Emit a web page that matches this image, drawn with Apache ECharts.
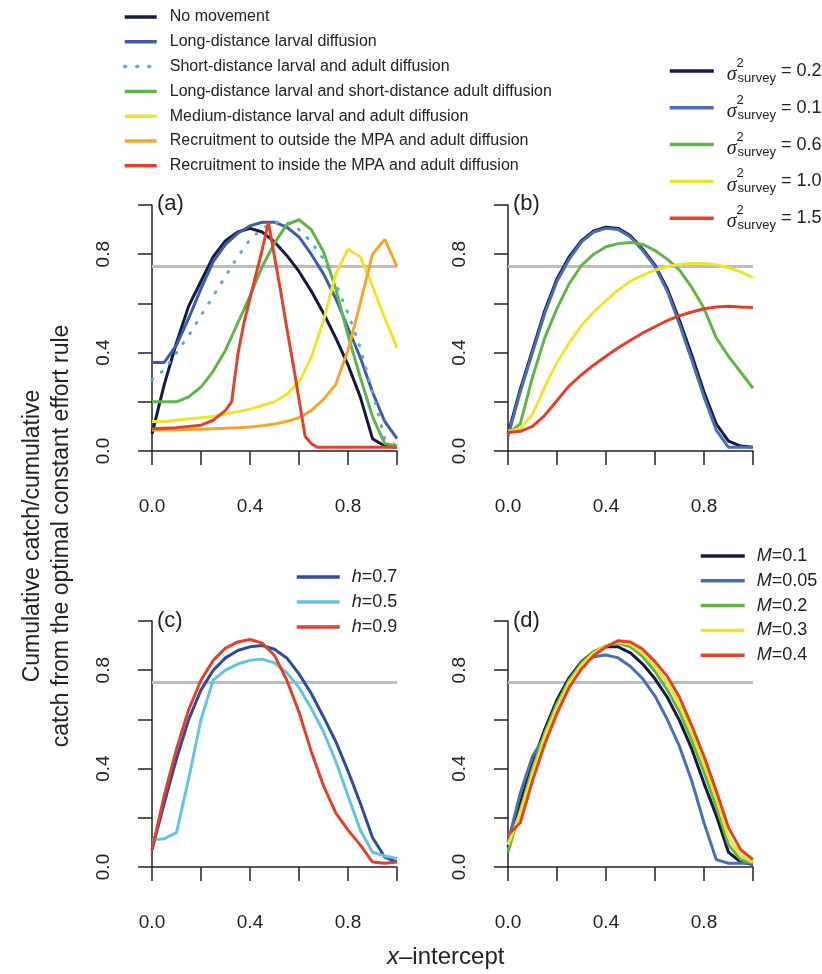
<!DOCTYPE html>
<html>
<head>
<meta charset="utf-8">
<script src="https://cdn.jsdelivr.net/npm/echarts@6.0.0/dist/echarts.min.js"></script>
<style>
  html, body { margin: 0; padding: 0; background: #fff; }
  #main { width: 822px; height: 974px; }
</style>
</head>
<body>
<div id="main"></div>
<script>
"use strict";
// x-intercept grid shared by most curves
var xGrid = [0, 0.05, 0.1, 0.15, 0.2, 0.25, 0.3, 0.35, 0.4, 0.45, 0.5,
  0.55, 0.6, 0.65, 0.7, 0.75, 0.8, 0.85, 0.9, 0.95, 1];
var xTicks = [0, 0.4, 0.8];
var target = 0.75; // grey reference line

/** (a) movement scenarios **/
var aNames = ["No movement", "Long-distance larval diffusion",
  "Short-distance larval and adult diffusion",
  "Long-distance larval and short-distance adult diffusion",
  "Medium-distance larval and adult diffusion",
  "Recruitment to outside the MPA and adult diffusion",
  "Recruitment to inside the MPA and adult diffusion"];
var aNoMove = [0.07, 0.27, 0.44, 0.59, 0.69, 0.79, 0.855, 0.89, 0.905, 0.89, 0.85,
  0.795, 0.73, 0.65, 0.56, 0.46, 0.35, 0.22, 0.05, 0.02, 0.015];
var aLongLarval = [0.36, 0.36, 0.43, 0.54, 0.66, 0.77, 0.84, 0.885, 0.915, 0.93, 0.93,
  0.91, 0.87, 0.80, 0.72, 0.62, 0.50, 0.38, 0.24, 0.12, 0.05];
var aShortBoth = [0.29, 0.33, 0.40, 0.47, 0.55, 0.63, 0.71, 0.79, 0.86, 0.905, 0.93,
  0.93, 0.90, 0.85, 0.78, 0.68, 0.56, 0.42, 0.24, 0.05, 0.02];
var aLongShort = [0.20, 0.20, 0.20, 0.22, 0.26, 0.325, 0.41, 0.52, 0.63, 0.75, 0.845,
  0.92, 0.94, 0.90, 0.81, 0.66, 0.47, 0.30, 0.14, 0.03, 0.02];
var aMedium = [0.12, 0.12, 0.125, 0.13, 0.135, 0.14, 0.15, 0.16, 0.17, 0.185, 0.20,
  0.23, 0.28, 0.38, 0.53, 0.72, 0.82, 0.79, 0.67, 0.54, 0.42];
var aOutside = [0.085, 0.085, 0.085, 0.087, 0.088, 0.09, 0.092, 0.095, 0.098, 0.103, 0.11,
  0.12, 0.135, 0.165, 0.21, 0.27, 0.41, 0.60, 0.80, 0.86, 0.75];
var aInsideX = [0, 0.1, 0.2, 0.25, 0.3, 0.325, 0.35, 0.375, 0.4, 0.425, 0.45, 0.475,
  0.5, 0.525, 0.55, 0.575, 0.6, 0.625, 0.65, 0.675, 0.8, 1];
var aInside = [0.09, 0.095, 0.105, 0.125, 0.165, 0.20, 0.39, 0.52, 0.62, 0.72, 0.82, 0.93,
  0.79, 0.65, 0.50, 0.36, 0.21, 0.06, 0.03, 0.015, 0.015, 0.015];

/** (b) survey variance **/
var bNames = ["0.2", "0.1", "0.6", "1.0", "1.5"];
var bS02 = [0.07, 0.25, 0.41, 0.57, 0.70, 0.79, 0.855, 0.895, 0.91, 0.905, 0.875,
  0.82, 0.755, 0.66, 0.53, 0.39, 0.24, 0.11, 0.04, 0.02, 0.015];
var bS01 = [0.06, 0.24, 0.40, 0.56, 0.69, 0.78, 0.85, 0.89, 0.905, 0.90, 0.87,
  0.815, 0.75, 0.65, 0.515, 0.37, 0.22, 0.085, 0.015, 0.015, 0.015];
var bS06 = [0.07, 0.11, 0.30, 0.46, 0.58, 0.68, 0.755, 0.80, 0.83, 0.843, 0.848,
  0.84, 0.815, 0.78, 0.735, 0.665, 0.58, 0.46, 0.385, 0.32, 0.255];
var bS10 = [0.08, 0.09, 0.15, 0.26, 0.36, 0.44, 0.51, 0.565, 0.61, 0.655, 0.69,
  0.715, 0.735, 0.75, 0.758, 0.762, 0.762, 0.757, 0.745, 0.728, 0.705];
var bS15 = [0.075, 0.08, 0.10, 0.145, 0.205, 0.265, 0.31, 0.35, 0.385, 0.42, 0.45,
  0.48, 0.505, 0.53, 0.55, 0.565, 0.578, 0.585, 0.588, 0.585, 0.583];

/** (c) steepness h **/
var cNames = ["0.7", "0.5", "0.9"];
var cH07 = [0.07, 0.26, 0.44, 0.60, 0.72, 0.80, 0.85, 0.88, 0.895, 0.90, 0.885,
  0.85, 0.785, 0.705, 0.61, 0.51, 0.39, 0.26, 0.12, 0.04, 0.02];
var cH05 = [0.11, 0.115, 0.14, 0.36, 0.60, 0.76, 0.80, 0.825, 0.84, 0.845, 0.83,
  0.79, 0.73, 0.645, 0.55, 0.43, 0.29, 0.15, 0.06, 0.045, 0.035];
var cH09 = [0.07, 0.29, 0.48, 0.64, 0.76, 0.84, 0.89, 0.915, 0.925, 0.91, 0.86,
  0.76, 0.63, 0.47, 0.33, 0.22, 0.15, 0.09, 0.02, 0.015, 0.02];

/** (d) natural mortality M **/
var dNames = ["0.1", "0.05", "0.2", "0.3", "0.4"];
var dM01 = [0.08, 0.26, 0.42, 0.56, 0.68, 0.77, 0.835, 0.875, 0.895, 0.895, 0.87,
  0.825, 0.765, 0.69, 0.595, 0.48, 0.34, 0.21, 0.06, 0.02, 0.01];
var dM005 = [0.10, 0.30, 0.45, 0.53, 0.66, 0.76, 0.825, 0.855, 0.862, 0.85, 0.815,
  0.765, 0.695, 0.60, 0.49, 0.35, 0.18, 0.03, 0.015, 0.015, 0.015];
var dM02 = [0.06, 0.23, 0.40, 0.545, 0.665, 0.76, 0.83, 0.875, 0.90, 0.91, 0.895,
  0.855, 0.795, 0.72, 0.63, 0.515, 0.385, 0.245, 0.09, 0.03, 0.015];
var dM03 = [0.09, 0.22, 0.38, 0.53, 0.65, 0.75, 0.82, 0.87, 0.90, 0.915, 0.905,
  0.87, 0.815, 0.75, 0.66, 0.545, 0.42, 0.28, 0.12, 0.045, 0.02];
var dM04 = [0.13, 0.18, 0.35, 0.50, 0.625, 0.73, 0.805, 0.86, 0.895, 0.92, 0.915,
  0.885, 0.835, 0.775, 0.69, 0.575, 0.45, 0.31, 0.16, 0.07, 0.03];

var FONT = "Liberation Sans, Arial, sans-serif";
var INK = "#222";
var C = {
  navy: "#141a3c", blue: "#3e5ca9", dot: "#5da8d9", green: "#62b446",
  yellow: "#efe42c", orange: "#f4a52b", red: "#e2412c", grey: "#bdbdbd",
  blueB: "#4a6db6", navyC: "#2f4b9c", sky: "#62c3e2"
};

// panel grids (plot box = data range 0..1)
var boxes = [
  { left: 152, top: 205 }, { left: 508, top: 205 },
  { left: 152, top: 621 }, { left: 508, top: 621 }
];

function pts(xs, ys) {
  return xs.map(function (x, i) { return [x, ys[i]]; });
}

function curve(name, gi, xs, ys, color, dash) {
  return {
    type: "line", name: name, xAxisIndex: gi, yAxisIndex: gi,
    data: pts(xs, ys), symbol: "none", silent: true,
    lineStyle: { color: color, width: 3, type: dash || "solid", cap: dash ? "round" : "butt" },
    itemStyle: { color: color }
  };
}

function refLine(gi) {
  return {
    type: "line", name: "ref" + gi, xAxisIndex: gi, yAxisIndex: gi,
    data: pts([0, 1], [target, target]), symbol: "none", silent: true,
    lineStyle: { color: C.grey, width: 3 }, z: 1
  };
}

function tickFmt(v) {
  var r = Math.round(v * 10);
  return xTicks.indexOf(r / 10) >= 0 ? (r / 10).toFixed(1) : "";
}

var grids = [], xAxes = [], yAxes = [];
boxes.forEach(function (b, i) {
  grids.push({ left: b.left, top: b.top, width: 245, height: 246 });
  xAxes.push({
    gridIndex: i, type: "value", min: 0, max: 1, interval: 0.2, offset: 11,
    axisLine: { show: true, lineStyle: { color: INK, width: 1.5 } },
    axisTick: { show: true, length: 14, lineStyle: { color: INK, width: 1.5 } },
    axisLabel: { margin: 35, fontSize: 19, color: INK, fontFamily: FONT, formatter: tickFmt },
    splitLine: { show: false }
  });
  yAxes.push({
    gridIndex: i, type: "value", min: 0, max: 1, interval: 0.2, offset: 10,
    axisLine: { show: true, lineStyle: { color: INK, width: 1.5 } },
    axisTick: { show: true, length: 14, lineStyle: { color: INK, width: 1.5 } },
    axisLabel: { rotate: 90, margin: 29, fontSize: 19, color: INK, fontFamily: FONT, formatter: tickFmt },
    splitLine: { show: false }
  });
});

var series = [refLine(0), refLine(1), refLine(2), refLine(3)];
// (a)
series.push(curve(aNames[0], 0, xGrid, aNoMove, C.navy));
series.push(curve(aNames[1], 0, xGrid, aLongLarval, C.blue));
series.push(curve(aNames[2], 0, xGrid, aShortBoth, C.dot, [1, 11]));
series.push(curve(aNames[3], 0, xGrid, aLongShort, C.green));
series.push(curve(aNames[4], 0, xGrid, aMedium, C.yellow));
series.push(curve(aNames[5], 0, xGrid, aOutside, C.orange));
series.push(curve(aNames[6], 0, aInsideX, aInside, C.red));
// (b)
var bSeriesNames = bNames.map(function (n) { return "s" + n; });
series.push(curve(bSeriesNames[0], 1, xGrid, bS02, C.navy));
series.push(curve(bSeriesNames[1], 1, xGrid, bS01, C.blueB));
series.push(curve(bSeriesNames[2], 1, xGrid, bS06, C.green));
series.push(curve(bSeriesNames[3], 1, xGrid, bS10, C.yellow));
series.push(curve(bSeriesNames[4], 1, xGrid, bS15, C.red));
// (c)
var cSeriesNames = cNames.map(function (n) { return "h" + n; });
series.push(curve(cSeriesNames[0], 2, xGrid, cH07, C.navyC));
series.push(curve(cSeriesNames[1], 2, xGrid, cH05, C.sky));
series.push(curve(cSeriesNames[2], 2, xGrid, cH09, C.red));
// (d)
var dSeriesNames = dNames.map(function (n) { return "M" + n; });
series.push(curve(dSeriesNames[0], 3, xGrid, dM01, C.navy));
series.push(curve(dSeriesNames[1], 3, xGrid, dM005, C.blueB));
series.push(curve(dSeriesNames[2], 3, xGrid, dM02, C.green));
series.push(curve(dSeriesNames[3], 3, xGrid, dM03, C.yellow));
series.push(curve(dSeriesNames[4], 3, xGrid, dM04, C.red));

var legends = [
  {
    data: aNames, left: 123, top: 9, itemWidth: 32, itemHeight: 12, itemGap: 8.8,
    textStyle: { fontSize: 16, lineHeight: 14, color: INK, fontFamily: FONT, padding: [0, 0, 0, 8] }
  },
  {
    data: bSeriesNames, left: 668, top: 57, itemWidth: 44, itemHeight: 12, itemGap: 8.8,
    formatter: function (n) { return "{s|σ}{p|2}{b|survey}{t| = " + n.slice(1) + "}"; },
    textStyle: {
      fontSize: 18, lineHeight: 28, color: INK, fontFamily: FONT, padding: [0, 0, 0, 8],
      rich: {
        s: { fontSize: 20, fontStyle: "italic", fontFamily: "Liberation Serif, serif", lineHeight: 24, verticalAlign: "bottom" },
        p: { fontSize: 13, lineHeight: 16, width: 1, verticalAlign: "top", fontFamily: FONT },
        b: { fontSize: 13, lineHeight: 16, verticalAlign: "bottom", fontFamily: FONT },
        t: { fontSize: 18, lineHeight: 28, fontFamily: FONT }
      }
    }
  },
  {
    data: cSeriesNames, left: 295, top: 568, itemWidth: 43, itemHeight: 12, itemGap: 7,
    formatter: function (n) { return "{i|h}{t|=" + n.slice(1) + "}"; },
    textStyle: {
      fontSize: 18, lineHeight: 18, color: INK, fontFamily: FONT, padding: [0, 0, 0, 7],
      rich: { i: { fontSize: 18, fontStyle: "italic", fontFamily: FONT }, t: { fontSize: 18, fontFamily: FONT } }
    }
  },
  {
    data: dSeriesNames, left: 699, top: 547, itemWidth: 44, itemHeight: 12, itemGap: 6.8,
    formatter: function (n) { return "{i|M}{t|=" + n.slice(1) + "}"; },
    textStyle: {
      fontSize: 18, lineHeight: 18, color: INK, fontFamily: FONT, padding: [0, 0, 0, 7],
      rich: { i: { fontSize: 18, fontStyle: "italic", fontFamily: FONT }, t: { fontSize: 18, fontFamily: FONT } }
    }
  }
];
legends.forEach(function (l) {
  l.orient = "vertical";
  l.selectedMode = false;
  l.padding = 0;
  l.inactiveColor = INK;
  // line-only key: hide the marker that ECharts puts in the middle of the line
  l.itemStyle = { color: "rgba(0,0,0,0)", borderWidth: 0, opacity: 0 };
  l.lineStyle = { width: 3.5 };
});

var panelLabels = [["(a)", 157, 193], ["(b)", 513, 193], ["(c)", 157, 610], ["(d)", 513, 610]];
var titles = panelLabels.map(function (p) {
  return {
    text: p[0], left: p[1], top: p[2], padding: 0,
    textStyle: { fontSize: 22, fontWeight: "normal", color: INK, fontFamily: FONT }
  };
});
titles.push({
  text: "{i|x}–intercept", left: 387, top: 945, padding: 0,
  textStyle: {
    fontSize: 24, fontWeight: "normal", color: INK, fontFamily: FONT,
    rich: { i: { fontSize: 24, fontStyle: "italic", fontFamily: FONT } }
  }
});

var chart = echarts.init(document.getElementById("main"), null, { renderer: "canvas" });
chart.setOption({
  animation: false,
  backgroundColor: "#fff",
  title: titles,
  legend: legends,
  grid: grids,
  xAxis: xAxes,
  yAxis: yAxes,
  series: series,
  graphic: [{
    type: "text", x: 47, y: 536, rotation: Math.PI / 2,
    style: {
      text: "Cumulative catch/cumulative\ncatch from the optimal constant effort rule",
      fontSize: 23, fontFamily: FONT, fill: INK, lineHeight: 29,
      align: "center", verticalAlign: "middle", textAlign: "center", textVerticalAlign: "middle"
    }
  }]
});
</script>
</body>
</html>
